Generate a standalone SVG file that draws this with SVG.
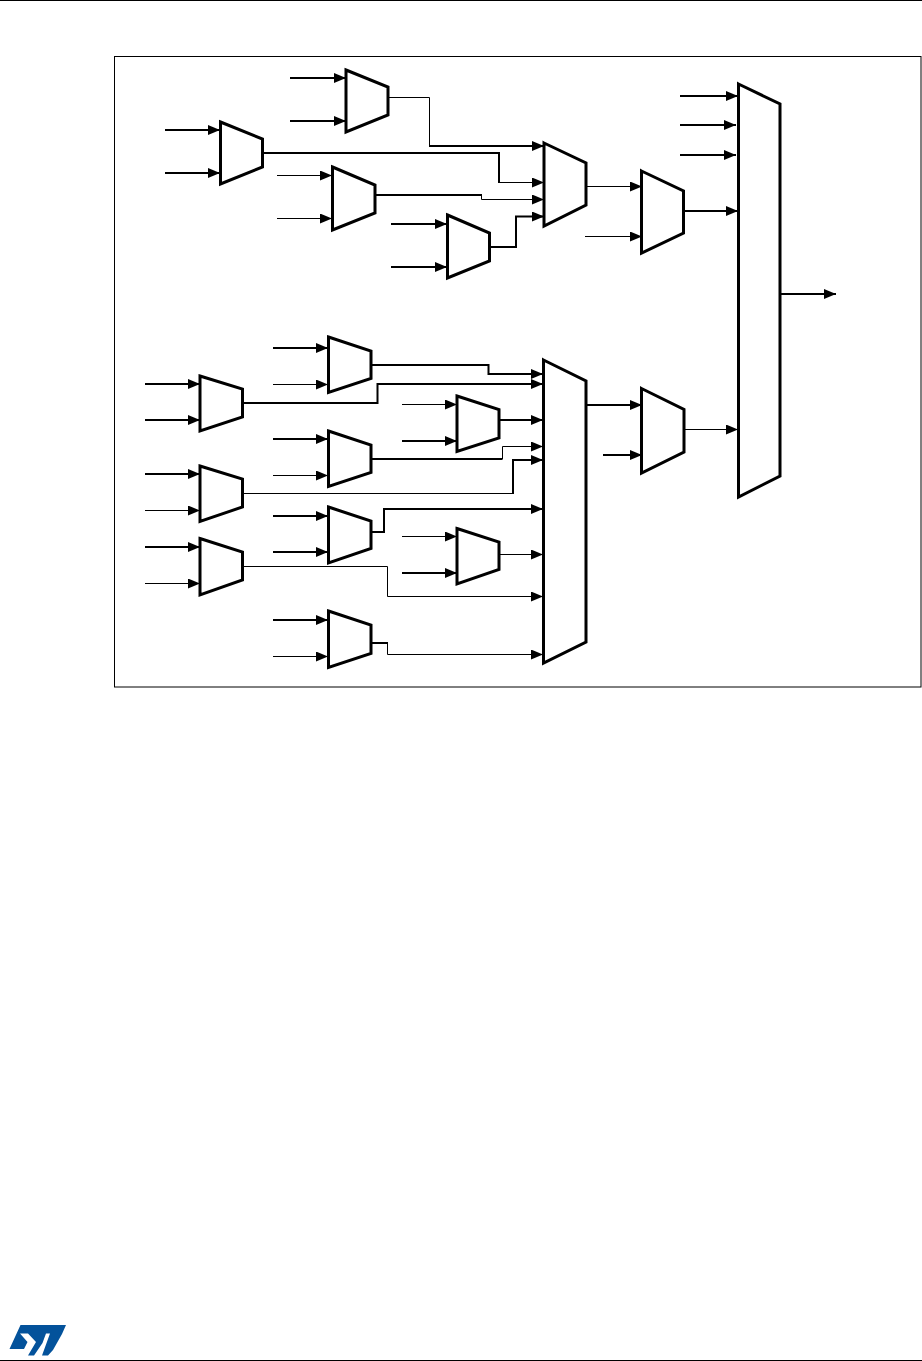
<svg xmlns="http://www.w3.org/2000/svg" width="922" height="1361" viewBox="0 0 922 1361">
<style>
.mux{fill:#fff;stroke:#000;stroke-width:3;stroke-linejoin:miter}
.t{fill:none;stroke:#000;stroke-width:2}
.n{fill:none;stroke:#000;stroke-width:1}
.a{marker-end:url(#arr)}
</style>
<defs>
<marker id="arr" markerUnits="userSpaceOnUse" markerWidth="12" markerHeight="10" refX="12" refY="5" orient="auto"><path d="M0,0L12,5L0,10z" fill="#000"/></marker>
</defs>
<rect width="922" height="1361" fill="#fff"/>
<path d="M0,0.5H922M0,1360.5H922" stroke="#000" stroke-width="1" fill="none"/>
<rect x="114.5" y="56.5" width="806.5" height="630.5" fill="none" stroke="#000" stroke-width="1"/>
<g id="connectors">
<path class="t a" d="M290,78H346"/><path class="t a" d="M290,121H346"/>
<path class="t a" d="M165,130H220"/><path class="t a" d="M165,173H220"/>
<path class="n a" d="M277,175.5H332"/><path class="n a" d="M277,218.5H332"/>
<path class="t a" d="M391,224H447"/><path class="t a" d="M391,267H447"/>
<path class="n" d="M388,97.5H429.5V146"/><path class="t a" d="M429,146H544"/>
<path class="t" d="M263,153H499V183"/><path class="n a" d="M499,182.5H544"/>
<path class="t" d="M375,195H482"/><path class="n a" d="M481.5,195V199.5H544"/>
<path class="t a" d="M490,247H516V216.5H544"/>
<path class="n a" d="M586,186.5H642"/><path class="n a" d="M585,236.5H642"/>
<path class="t a" d="M684,211H738"/>
<path class="t a" d="M680,96H738"/><path class="t a" d="M680,125H736"/><path class="t a" d="M680,155H736"/>
<path class="n a" d="M684,429.5H738"/><path class="t a" d="M780,294H836"/>
<path class="t a" d="M586,405H642"/><path class="t a" d="M603,455H642"/>
<path class="t a" d="M145,384H200"/><path class="t a" d="M145,420H200"/>
<path class="t a" d="M273,348H328"/><path class="n a" d="M273,384.5H328"/>
<path class="t a" d="M273,439H328"/><path class="n a" d="M273,475.5H328"/>
<path class="t a" d="M145,474H200"/><path class="n a" d="M145,510.5H200"/>
<path class="t a" d="M273,516H328"/><path class="t a" d="M273,552H328"/>
<path class="t a" d="M145,547H200"/><path class="n a" d="M145,583.5H200"/>
<path class="n a" d="M402,536.5H457"/><path class="t a" d="M402,573H457"/>
<path class="t a" d="M273,620H328"/><path class="n a" d="M273,656.5H328"/>
<path class="n a" d="M402,404.5H457"/><path class="t a" d="M402,441H457"/>
<path class="t a" d="M371,365H488.5V374H543"/>
<path class="t a" d="M243,403H377.5V384H543"/>
<path class="t a" d="M499,420H543"/>
<path class="t" d="M371,459H502.5"/><path class="n a" d="M502.5,459V446.5H543"/>
<path class="n" d="M243,493.5H513"/><path class="t a" d="M513,494V460H543"/>
<path class="t a" d="M371,532H384V509H543"/>
<path class="n a" d="M499,554.5H543"/>
<path class="n a" d="M243,566.5H387.5V596.5H543"/>
<path class="t" d="M371,643H387.5"/><path class="n a" d="M387.5,642V654.5H543"/>
</g>
<g id="mux1"><path class="mux" d="M346,70L388,87V115L346,132z"/></g>
<g id="mux2"><path class="mux" d="M220.5,122L262.5,139V167L220.5,184z"/></g>
<g id="mux3"><path class="mux" d="M332.5,167L375,185V213L332.5,230z"/></g>
<g id="mux4"><path class="mux" d="M447.5,215L489.5,233V261L447.5,278z"/></g>
<g id="mux5"><path class="mux" d="M544,143L586,163V205L544,226z"/></g>
<g id="mux6"><path class="mux" d="M641.5,171L683.5,191V233L641.5,253z"/></g>
<g id="mux7"><path class="mux" d="M738.5,84L780,104V476L738.5,497z"/></g>
<g id="mux8"><path class="mux" d="M200,376L242.5,389V417L200,431z"/></g>
<g id="mux9"><path class="mux" d="M328.5,337L371,351V378.5L328.5,392.5z"/></g>
<g id="mux10"><path class="mux" d="M328.5,431L371,445V472.5L328.5,486.5z"/></g>
<g id="mux11"><path class="mux" d="M200,466L242.5,479V507L200,521.5z"/></g>
<g id="mux12"><path class="mux" d="M328.5,507L371,521V548.5L328.5,563z"/></g>
<g id="mux13"><path class="mux" d="M200,538.5L242.5,552V580L200,595z"/></g>
<g id="mux14"><path class="mux" d="M457,528.5L499,542V569.5L457,584z"/></g>
<g id="mux15"><path class="mux" d="M328.5,611L371,625V653.5L328.5,667.5z"/></g>
<g id="mux16"><path class="mux" d="M457,396L499,409.5V438L457,451.5z"/></g>
<g id="mux17"><path class="mux" d="M543.5,360L586,381V642L543.5,663z"/></g>
<g id="mux18"><path class="mux" d="M641.5,388.5L684,409.5V452L641.5,473z"/></g>
<g id="logo"><path fill="#03529b" d="M20.5,1325H66L62,1334L53,1350L48,1355.5H42L50,1333.5H46L42.5,1343L34,1355.5H28L36,1342L28,1333.5H20L27.5,1342L24,1349H9.5z"/></g>
</svg>
